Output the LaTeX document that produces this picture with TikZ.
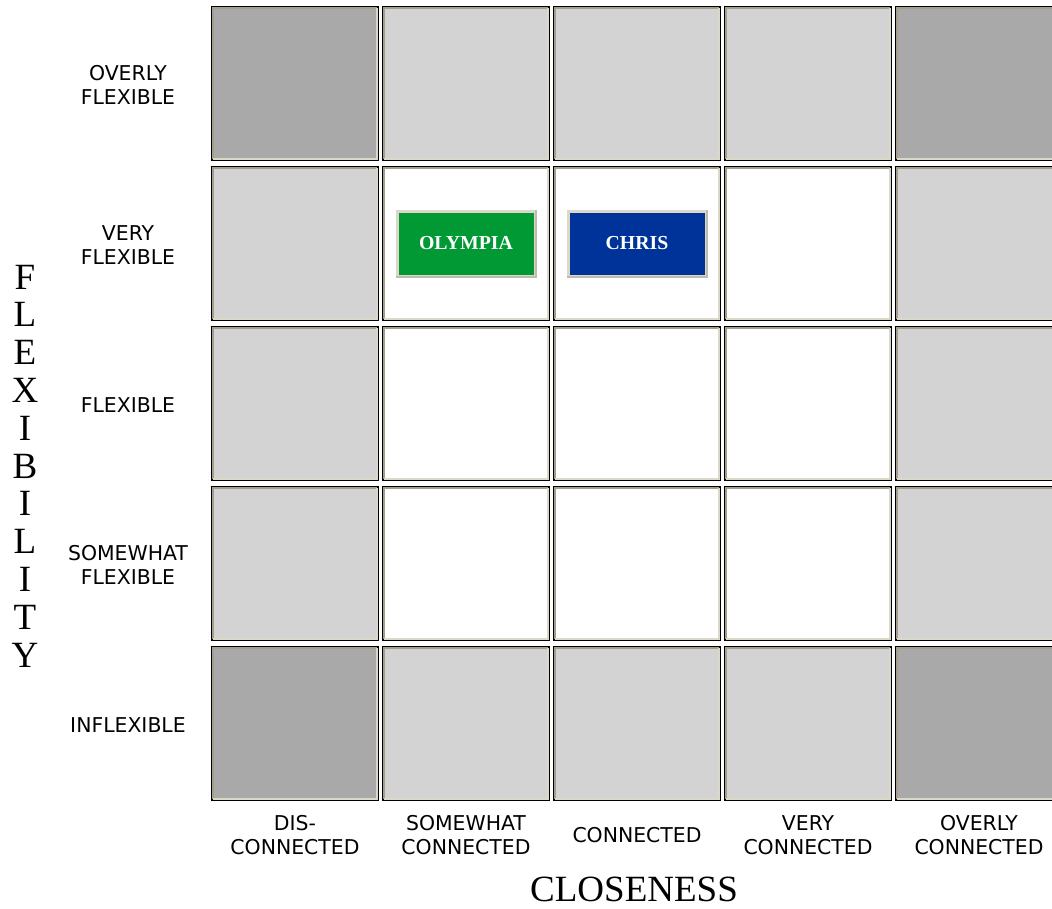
\documentclass[tikz,border=0pt]{standalone}
\usepackage{fontspec}
\setmainfont{Liberation Serif}
\newfontfamily\gridfont{DejaVu Sans}
\usepackage{tikz}
\usetikzlibrary{positioning}

\definecolor{cellDK}{HTML}{A9A9A9}
\definecolor{cellLT}{HTML}{D3D3D3}
\definecolor{bevDK}{HTML}{A39F8C}
\definecolor{bevLT}{HTML}{DCD8C8}
\definecolor{olyGreen}{HTML}{009933}
\definecolor{chrisBlue}{HTML}{003399}

\begin{document}
\begin{tikzpicture}[x=1pt, y=-1pt,
        cellbox/.style={draw=black, line width=2.5pt, minimum width=165.5pt, minimum height=152.5pt, inner sep=0pt},
        dk/.style={fill=cellDK}, lt/.style={fill=cellLT}, wt/.style={fill=white},
        gridlab/.style={align=center, inner sep=0pt, font=\gridfont\fontsize{20.4}{24}\selectfont},
        namebox/.style={draw=bevLT, line width=3pt, minimum width=138pt, minimum height=65pt,
            inner sep=0pt, text=white, font=\bfseries\fontsize{19.8}{22}\selectfont}]
        \useasboundingbox (0,0) rectangle (1052,908);
        \coordinate (labcol) at (128,0);
        \coordinate (labrow) at (0,835);

        \foreach \r/\cols in {1/{dk,lt,lt,lt,dk}, 2/{lt,wt,wt,wt,lt}, 3/{lt,wt,wt,wt,lt},
                4/{lt,wt,wt,wt,lt}, 5/{dk,lt,lt,lt,dk}}
            \foreach \cl [count=\c] in \cols {
                \node[cellbox, \cl] (cell-\r-\c) at (124+171*\c, -76.5+160*\r) {};
                \draw[bevDK, line width=1.5pt] ([shift={(2,-2)}]cell-\r-\c.south west)
                    |- ([shift={(-2,2)}]cell-\r-\c.north east);
                \draw[bevLT, line width=1.5pt] ([shift={(2,-2)}]cell-\r-\c.south west)
                    -| ([shift={(-2,2)}]cell-\r-\c.north east);
            }

        \foreach \txt [count=\r] in {OVERLY\\FLEXIBLE, VERY\\FLEXIBLE, FLEXIBLE, SOMEWHAT\\FLEXIBLE, INFLEXIBLE}
            \node[gridlab] (flex-\r) at ([yshift=-1.5pt]labcol |- cell-\r-1) {\txt};
        \foreach \txt [count=\c] in {DIS-\\CONNECTED, SOMEWHAT\\CONNECTED, CONNECTED, VERY\\CONNECTED, OVERLY\\CONNECTED}
            \node[gridlab] (close-\c) at (cell-5-\c |- labrow) {\txt};

        \node[namebox, fill=olyGreen] (olympia) at (cell-2-2) {OLYMPIA};
        \node[namebox, fill=chrisBlue] (chris) at (cell-2-3) {CHRIS};
        \foreach \nm in {olympia, chris}
            \draw[bevDK!70, line width=1.5pt] ([shift={(0.75,-0.75)}]\nm.south west)
                -| ([shift={(-0.75,0.75)}]\nm.north east);

        \node[align=center, inner sep=0pt, font=\fontsize{37}{37.8}\selectfont] (flexaxis) at (25,466)
            {F\\L\\E\\X\\I\\B\\I\\L\\I\\T\\Y};
        \node[inner sep=0pt, font=\fontsize{37}{40}\selectfont] (closeaxis) at (634,889) {CLOSENESS};
    \end{tikzpicture}
\end{document}
